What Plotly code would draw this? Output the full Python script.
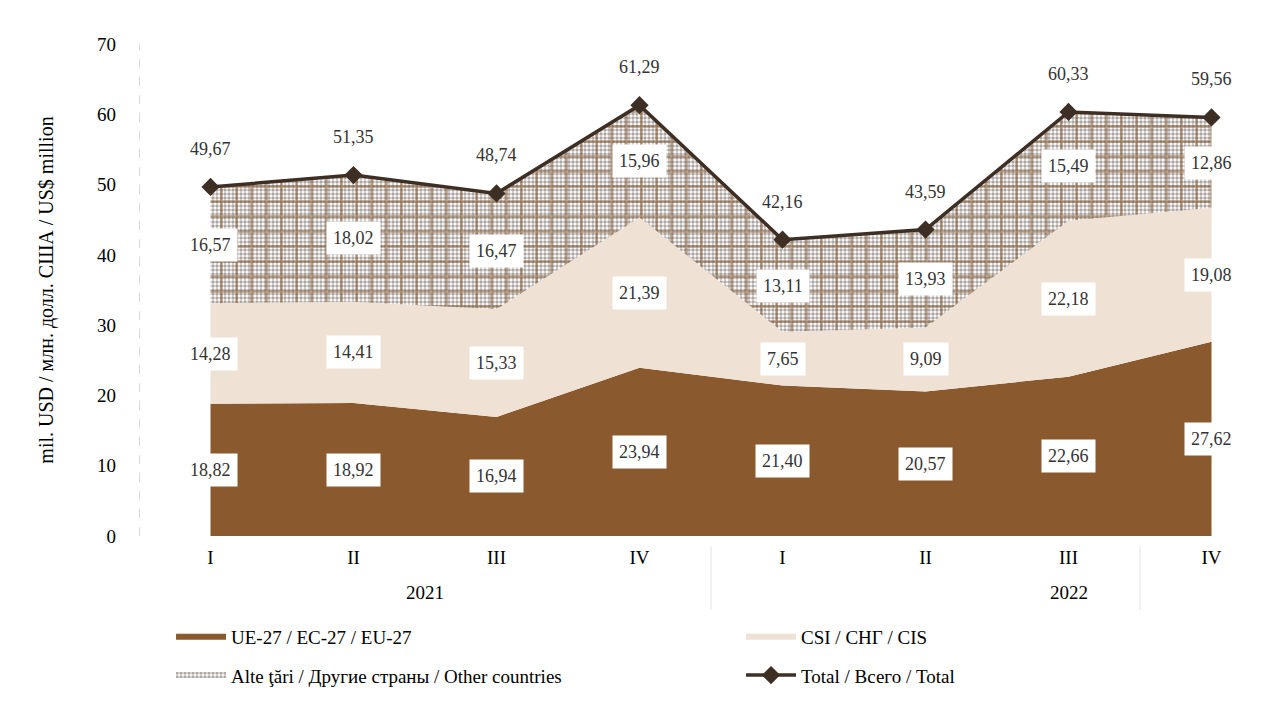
import plotly.graph_objects as go

# --- données
trimestres = ["I", "II", "III", "IV", "I", "II", "III", "IV"]
annees = ["2021", "2022"]
ue27 = [18.82, 18.92, 16.94, 23.94, 21.40, 20.57, 22.66, 27.62]
csi = [14.28, 14.41, 15.33, 21.39, 7.65, 9.09, 22.18, 19.08]
alte = [16.57, 18.02, 16.47, 15.96, 13.11, 13.93, 15.49, 12.86]
total = [49.67, 51.35, 48.74, 61.29, 42.16, 43.59, 60.33, 59.56]

x = list(range(len(trimestres)))
police = "Liberation Serif"
brun = "#8a5a2e"
beige = "#efe2d4"
fonce = "#3e2f25"

def fmt(v):
    return f"{v:.2f}".replace(".", ",")

bas_alte = [a + b for a, b in zip(ue27, csi)]
haut_alte = [a + b for a, b in zip(bas_alte, alte)]

fig = go.Figure()

fig.add_trace(go.Scatter(x=x, y=ue27, stackgroup="s", mode="none",
                         fillcolor=brun, name="UE-27 / EC-27 / EU-27", legend="legend"))
fig.add_trace(go.Scatter(x=x, y=csi, stackgroup="s", mode="none",
                         fillcolor=beige, name="CSI / СНГ / CIS", legend="legend"))
fig.add_trace(go.Scatter(x=x, y=alte, stackgroup="s", mode="none",
                         fillcolor="#ffffff",
                         fillpattern=dict(shape=".", fgcolor="#5a4e46", bgcolor="#ffffff",
                                          size=4, solidity=0.6),
                         name="Alte ţări / Другие страны / Other countries", legend="legend2"))
# grille brune par-dessus le motif
fig.add_trace(go.Scatter(x=x, y=bas_alte, mode="lines", line=dict(width=0),
                         showlegend=False, hoverinfo="skip"))
fig.add_trace(go.Scatter(x=x, y=haut_alte, mode="lines", line=dict(width=0), fill="tonexty",
                         fillcolor="rgba(0,0,0,0)",
                         fillpattern=dict(shape="+", fgcolor="#7a4a1e", bgcolor="rgba(0,0,0,0)",
                                          size=15, solidity=0.3),
                         showlegend=False, hoverinfo="skip"))
fig.add_trace(go.Scatter(x=x, y=total, mode="lines+markers",
                         line=dict(color=fonce, width=3.5),
                         marker=dict(symbol="diamond", size=14, color=fonce),
                         name="Total / Всего / Total", legend="legend2"))

# étiquettes des valeurs (au milieu de chaque bande)
for i in x:
    bas = 0
    for serie in (ue27, csi, alte):
        fig.add_annotation(x=i, y=bas + serie[i] / 2, text=fmt(serie[i]), showarrow=False,
                           bgcolor="white", borderpad=6,
                           font=dict(family=police, size=18, color="#333333"))
        bas += serie[i]
    fig.add_annotation(x=i, y=total[i], text=fmt(total[i]), showarrow=False, yshift=38,
                       font=dict(family=police, size=18, color="#333333"))

# années sous les trimestres
fig.add_annotation(x=1.5, y=0, yref="y", text=annees[0], showarrow=False, yshift=-56,
                   font=dict(family=police, size=19, color="black"))
fig.add_annotation(x=6.0, y=0, yref="y", text=annees[1], showarrow=False, yshift=-56,
                   font=dict(family=police, size=19, color="black"))

# séparateurs verticaux
for xs in (3.5, 6.5):
    fig.add_shape(type="line", x0=xs, x1=xs, y0=-0.02, y1=-0.15, xref="x", yref="paper",
                  line=dict(color="#e4e4e4", width=1))
fig.add_shape(type="line", x0=-0.5, x1=-0.5, y0=0, y1=1, xref="x", yref="paper",
              line=dict(color="#cccccc", width=1.5, dash="dash"))

leg = dict(orientation="h", xanchor="left", yanchor="middle", x=0.028,
           entrywidth=505, entrywidthmode="pixels", itemwidth=50, traceorder="normal",
           font=dict(family=police, size=19, color="black"), bgcolor="rgba(0,0,0,0)")

fig.update_layout(
    width=1283, height=706,
    margin=dict(l=131, r=8, t=36, b=178, autoexpand=False),
    plot_bgcolor="white", paper_bgcolor="white",
    font=dict(family=police, size=19, color="black"),
    xaxis=dict(tickvals=x, ticktext=trimestres, range=[-0.5, 7.5], showgrid=False,
               zeroline=False, showline=False, ticks="", ticklabelstandoff=8,
               tickfont=dict(size=19)),
    yaxis=dict(range=[0, 70], dtick=10, showgrid=False, zeroline=False, ticks="",
               showline=False, ticklabelstandoff=22, tickfont=dict(size=19),
               title=dict(text="mil. USD / млн. долл. США / US$ million",
                          font=dict(family=police, size=20), standoff=38)),
    legend=dict(leg, y=-0.2053),
    legend2=dict(leg, y=-0.283),
    showlegend=True,
)

fig.write_html("out.html")
